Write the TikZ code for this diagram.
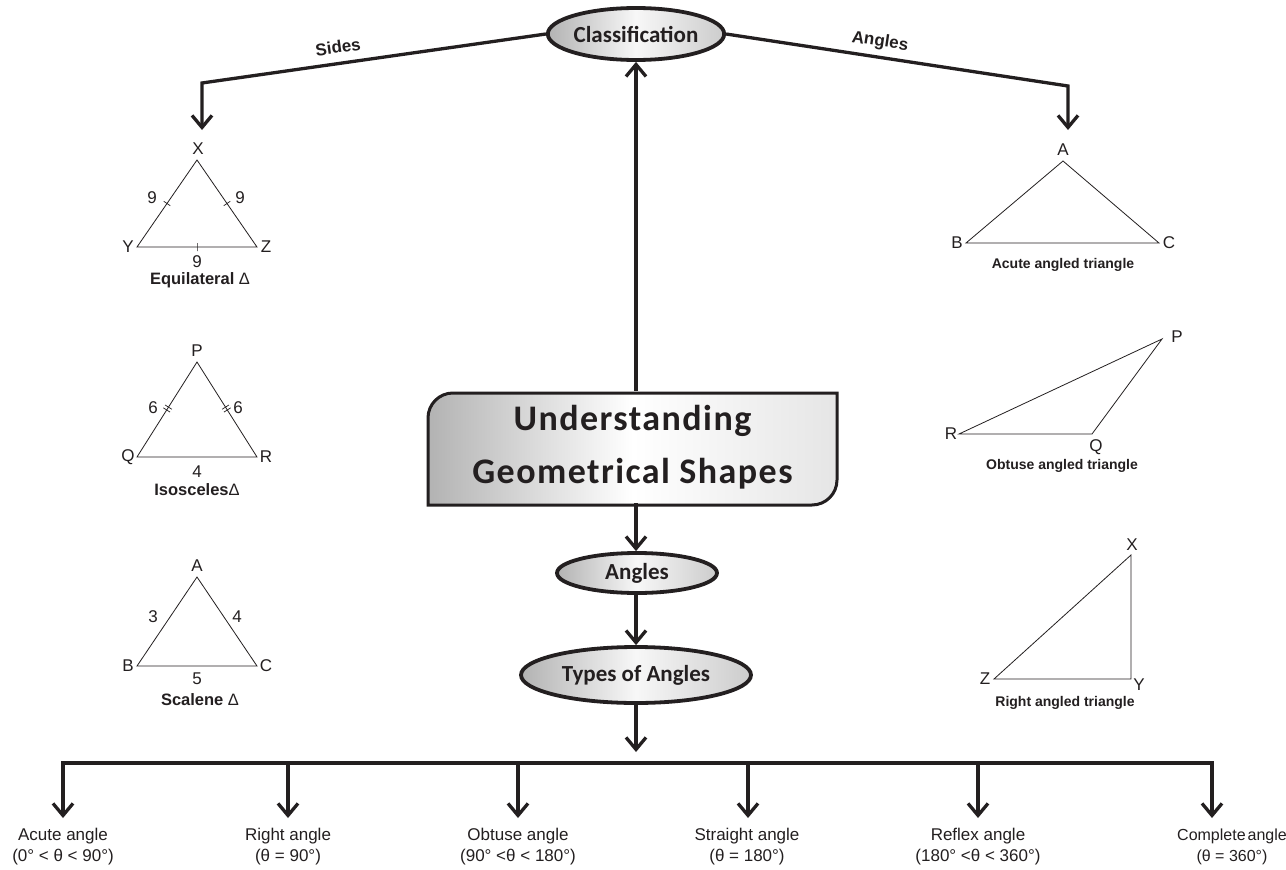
\documentclass[tikz,border=0pt]{standalone}
\usepackage{fontspec}
\setmainfont{Liberation Sans}
\newfontfamily\calibri{Carlito}
\newfontfamily\bigcal[LetterSpace=4]{Carlito}
\usetikzlibrary{arrows.meta,shapes.geometric}
\definecolor{ink}{HTML}{231F20}
\begin{document}
\begin{tikzpicture}[x=1pt,y=-1pt,
  conn/.style={draw=ink, line width=3.3pt},
  arr/.style={-{Straight Barb[length=12pt,width=20pt]}},
  bubble/.style={ellipse, draw=ink, line width=3.8pt, inner sep=0pt,
    left color=black!30, right color=black!20, middle color=black!3,
    text=ink, font=\calibri\bfseries\fontsize{23}{26}\selectfont},
  tri/.style={draw=ink, line width=0.8pt},
  vlab/.style={text=ink, font=\fontsize{17}{19}\selectfont, inner sep=1pt},
  capl/.style={text=ink, font=\bfseries\fontsize{16.5}{18}\selectfont, inner sep=0pt},
  capr/.style={text=ink, font=\bfseries\fontsize{14}{16}\selectfont, inner sep=0pt},
  tickm/.style={sloped, draw=ink, line width=0.7pt, minimum width=0pt, minimum height=8pt, inner sep=0pt},
  typelab/.style={align=center, text=ink, font=\fontsize{17}{21}\selectfont, inner sep=0pt},
  branchlab/.style={text=ink, font=\bfseries\fontsize{17}{19}\selectfont, inner sep=0pt},
]
\useasboundingbox[fill=white] (0,0) rectangle (1286,870);

% ---------- central box ----------
\path[draw=ink, line width=3pt, left color=black!30, right color=black!10, middle color=white]
  (428,505) -- (428,418) arc[start angle=180,end angle=270,radius=25]
  -- (837,393) -- (837,480) arc[start angle=0,end angle=90,radius=25] -- cycle;
\node[minimum width=409pt, minimum height=112pt, inner sep=0pt, align=center, text=ink,
  font=\bigcal\bfseries\fontsize{36}{53}\selectfont] (main) at (632.5,447)
  {Understanding\\Geometrical Shapes};

% ---------- bubbles ----------
\node[bubble, minimum width=174pt, minimum height=52pt] (cls) at (636,34) {Classification};
\node[bubble, minimum width=160pt, minimum height=40pt] (ang) at (637,573) {Angles};
\node[bubble, minimum width=230pt, minimum height=56pt] (typ) at (636,675) {Types of Angles};

% ---------- main connectors ----------
\draw[conn, arr] (main.north -| cls.south) -- (cls.south);
\draw[conn, arr] (main.south -| cls.south) -- (ang.north -| cls.south);
\draw[conn, arr] (ang.south -| cls.south) -- (typ.north);
\coordinate (typtip) at (636,752);
\draw[conn, arr] (typ.south) -- (typtip);

% ---------- branches from Classification ----------
\coordinate (lc) at (202,83);
\coordinate (ltip) at (202,130);
\coordinate (rc) at (1068,86);
\coordinate (rtip) at (1068,130);
\draw[conn, arr] (cls.west) -- (lc) -- (ltip);
\draw[conn, arr] (cls.east) -- (rc) -- (rtip);
\node[branchlab, rotate=7.9] (sides) at (338,47) {Sides};
\node[branchlab, rotate=-8.4] (angl) at (880,42) {Angles};

% ---------- Equilateral ----------
\coordinate (eX) at (197,160); \coordinate (eY) at (137,247); \coordinate (eZ) at (257,247);
\draw[tri] (eX) -- (eY) -- (eZ) -- cycle;
\path (eX) -- (eY) node[tickm, midway] {};
\path (eX) -- (eZ) node[tickm, midway] {};
\path (eY) -- (eZ) node[tickm, midway] {};
\node[vlab] (eXl) at (198,149) {X};
\node[vlab] (eYl) at (128,247) {Y};
\node[vlab] (eZl) at (266,247) {Z};
\node[vlab] (e9a) at (152,198) {9};
\node[vlab] (e9b) at (240,198) {9};
\node[vlab] (e9c) at (197,262) {9};
\node[capl] (ecap) at (200,280) {Equilateral {\mdseries Δ}};

% ---------- Isosceles ----------
\coordinate (iP) at (197,362); \coordinate (iQ) at (137,457); \coordinate (iR) at (257,457);
\draw[tri] (iP) -- (iQ) -- (iR) -- cycle;
\path (iP) -- (iQ) node[tickm, pos=0.475] {} node[tickm, pos=0.505] {};
\path (iP) -- (iR) node[tickm, pos=0.475] {} node[tickm, pos=0.505] {};
\node[vlab] (iPl) at (197,351) {P};
\node[vlab] (iQl) at (128,457) {Q};
\node[vlab] (iRl) at (266,457) {R};
\node[vlab] (i6a) at (153,408) {6};
\node[vlab] (i6b) at (238,408) {6};
\node[vlab] (i4) at (197,472) {4};
\node[capl] (icap) at (197,490) {Isosceles{\mdseries Δ}};

% ---------- Scalene ----------
\coordinate (sA) at (197,577); \coordinate (sB) at (137,666); \coordinate (sC) at (257,666);
\draw[tri] (sA) -- (sB) -- (sC) -- cycle;
\node[vlab] (sAl) at (197,566) {A};
\node[vlab] (sBl) at (128,666) {B};
\node[vlab] (sCl) at (266,666) {C};
\node[vlab] (s3) at (153,617) {3};
\node[vlab] (s4) at (237,617) {4};
\node[vlab] (s5) at (197,679) {5};
\node[capl] (scap) at (200,700) {Scalene {\mdseries Δ}};

% ---------- Acute ----------
\coordinate (aA) at (1063,161); \coordinate (aB) at (966,243); \coordinate (aC) at (1159,243);
\draw[tri] (aA) -- (aB) -- (aC) -- cycle;
\node[vlab] (aAl) at (1063,150) {A};
\node[vlab] (aBl) at (957,243) {B};
\node[vlab] (aCl) at (1169,243) {C};
\node[capr] (acap) at (1063,265) {Acute angled triangle};

% ---------- Obtuse ----------
\coordinate (oP) at (1162,339); \coordinate (oR) at (959,434); \coordinate (oQ) at (1092,434);
\draw[tri] (oP) -- (oR) -- (oQ) -- cycle;
\node[vlab] (oPl) at (1177,337) {P};
\node[vlab] (oRl) at (951,434) {R};
\node[vlab] (oQl) at (1096,447) {Q};
\node[capr] (ocap) at (1062,466) {Obtuse angled triangle};

% ---------- Right ----------
\coordinate (rX) at (1131,555); \coordinate (rZ) at (994,679); \coordinate (rY) at (1131,679);
\draw[tri] (rX) -- (rZ) -- (rY) -- cycle;
\node[vlab] (rXl) at (1132,545) {X};
\node[vlab] (rZl) at (985,679) {Z};
\node[vlab] (rYl) at (1139,685) {Y};
\node[capr] (rcap) at (1065,703) {Right angled triangle};

% ---------- types of angles ----------
\foreach \i/\x in {1/63,2/288,3/518,4/748,5/978,6/1212}{
  \coordinate (bar\i) at (\x,763);
  \coordinate (tip\i) at (\x,818);
}
\draw[conn, {Straight Barb[length=12pt,width=20pt]}-{Straight Barb[length=12pt,width=20pt]}]
  (tip1) -- (bar1) -- (bar6) -- (tip6);
\foreach \i in {2,3,4,5}{ \draw[conn, arr] (bar\i) -- (tip\i); }

\node[typelab] (lab1) at (63,847) {Acute angle\\(0° < θ < 90°)};
\node[typelab] (lab2) at (288,847) {Right angle\\(θ = 90°)};
\node[typelab] (lab3) at (518,847) {Obtuse angle\\(90° <θ < 180°)};
\node[typelab] (lab4) at (747,847) {Straight angle\\(θ = 180°)};
\node[typelab] (lab5) at (978,847) {Reflex angle\\(180° <θ < 360°)};
\node[typelab, font=\fontsize{16}{21}\selectfont] (lab6) at (1232,847) {Complete\hspace{2pt}angle\\(θ = 360°)};
\end{tikzpicture}
\end{document}
